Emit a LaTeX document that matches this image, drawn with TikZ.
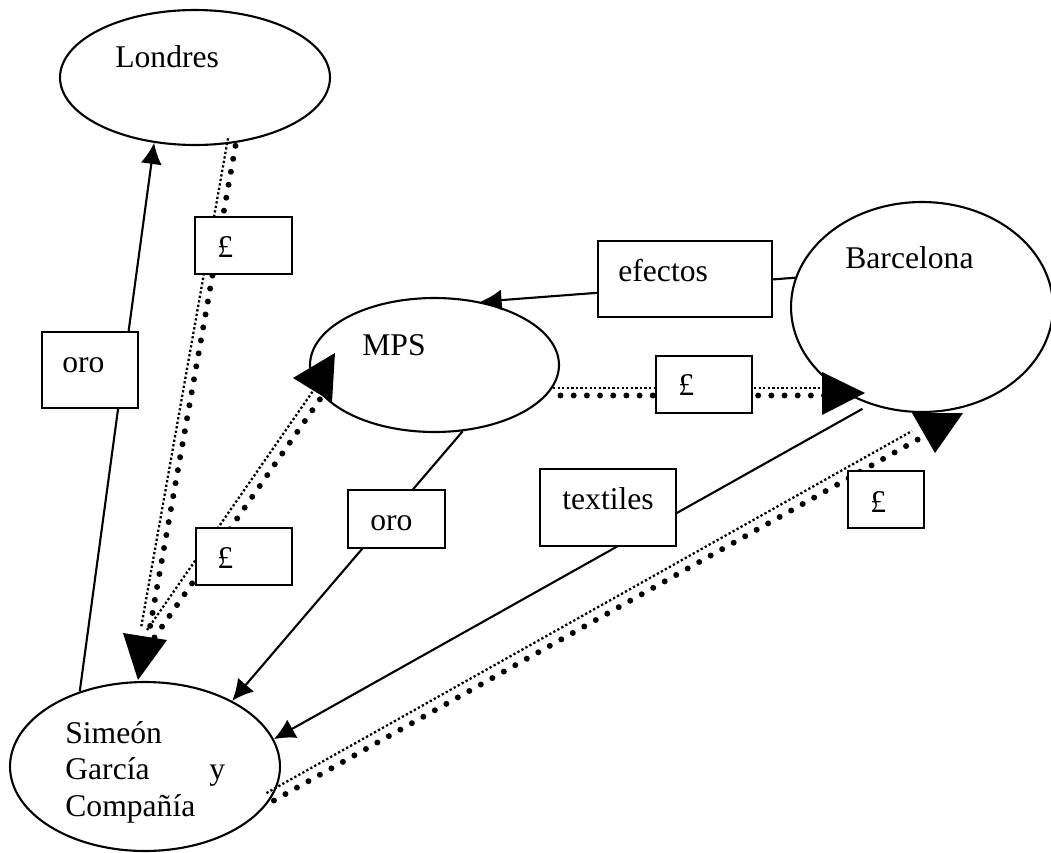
\documentclass[tikz,border=0pt]{standalone}
\usepackage{fontspec}
\setmainfont{Liberation Serif}
\usetikzlibrary{shapes.geometric,arrows.meta}
\tikzstyle{place} = [ellipse, draw, line width=1.2pt, inner sep=0pt]
\tikzstyle{block} = [rectangle, draw, fill=white, line width=1.2pt, inner sep=0pt]
\tikzstyle{word} = [anchor=base west, inner sep=0pt, font=\fontsize{18}{21}\selectfont]
\tikzstyle{line} = [draw, line width=1.2pt, -{Latex[length=12pt,width=12pt]}]
\tikzstyle{pounds} = [draw, line width=3.4pt, line cap=round, dash pattern=on 0pt off 7.5pt,
    transform canvas={shift={(2.5,2.5)}},
    preaction={draw, line width=1.3pt, line cap=butt, dash pattern=on 1.3pt off 1.3pt,
    transform canvas={shift={(-5,-5)}}}]

\begin{document}
\begin{tikzpicture}[x=0.02cm, y=-0.02cm]
    \useasboundingbox (0,0) rectangle (1051,852);
    \node [place, minimum width=5.4cm, minimum height=2.7cm] (lon) at (195,77.5) {};
    \node [place, minimum width=5.24cm, minimum height=4.2cm] (bar) at (922,307) {};
    \node [place, minimum width=4.98cm, minimum height=2.68cm] (mps) at (434.5,365) {};
    \node [place, minimum width=5.4cm, minimum height=3.38cm] (sim) at (145,766.5) {};
    \node [word] (lonname) at (115,67) {Londres};
    \node [word] (barname) at (845,268) {Barcelona};
    \node [word] (mpsname) at (362,355) {MPS};
    \node [word, text width=3.2cm, align=left] (simname) at (65,743)
        {Simeón\\García\hskip 0pt plus 1filll y\\Compañía};

    \path [line] (sim.131) -- (lon.238);
    \path [line] (bar.167) -- (mps.54);
    \path [line] (mps.-67) -- (sim.37);
    \path [line, shorten <=5pt] (bar.242) -- (sim.12);

    \coordinate (lonend) at (146,633);
    \coordinate (simout) at (152,635);
    \coordinate (mpsin) at (318,396);
    \coordinate (mpsout) at (558,393);
    \coordinate (barin) at (825,393);
    \coordinate (barlow) at (917,436);
    \path [pounds] (lon.-60) -- (lonend);
    \path [pounds] (simout) -- (mpsin);
    \path [pounds] (mpsout) -- (barin);
    \path [pounds] (sim.-14) -- (barlow);

    \node [block, minimum width=1.94cm, minimum height=1.14cm] (lonbox) at (243.5,245.5) {};
    \node [block, minimum width=1.92cm, minimum height=1.52cm] (orobox) at (90,370) {};
    \node [block, minimum width=3.48cm, minimum height=1.52cm] (efebox) at (685,279) {};
    \node [block, minimum width=1.92cm, minimum height=1.14cm] (mpsbox) at (704,384.5) {};
    \node [block, minimum width=2.72cm, minimum height=1.54cm] (texbox) at (608,507.5) {};
    \node [block, minimum width=1.94cm, minimum height=1.16cm] (oro2box) at (396.5,519) {};
    \node [block, minimum width=1.92cm, minimum height=1.14cm] (simbox) at (244,556.5) {};
    \node [block, minimum width=1.52cm, minimum height=1.14cm] (barbox) at (886,499.5) {};
    \node [word] (lonlbl) at (217,257) {£};
    \node [word] (orolbl) at (62,372) {oro};
    \node [word] (efelbl) at (618,281) {efectos};
    \node [word] (mpslbl) at (678,395) {£};
    \node [word] (texlbl) at (562,509) {textiles};
    \node [word] (oro2lbl) at (370,530) {oro};
    \node [word] (simlbl) at (217,568) {£};
    \node [word] (barlbl) at (870,512) {£};

    \fill (123,633) -- (167,640) -- (138,680) -- cycle;
    \fill (293,378) -- (335,353) -- (332,402) -- cycle;
    \fill (822,372) -- (865,393) -- (822,415) -- cycle;
    \fill (912,413) -- (963,413) -- (935,453) -- cycle;
\end{tikzpicture}
\end{document}
